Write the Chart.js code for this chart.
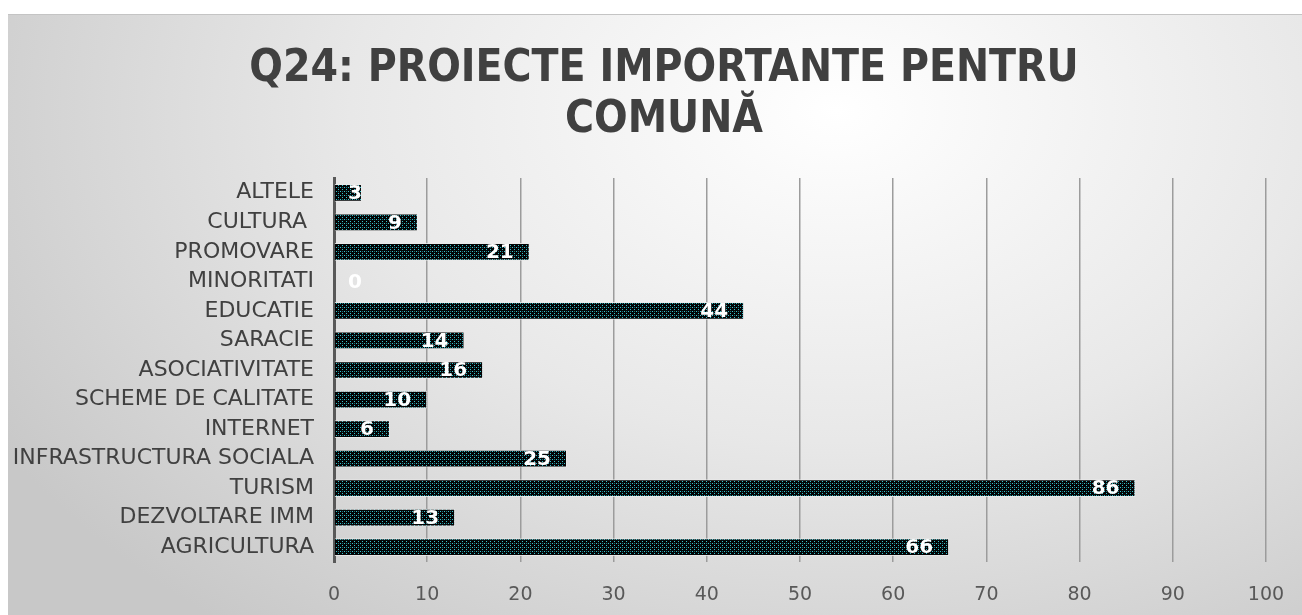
<!DOCTYPE html>
<html>
<head>
<meta charset="utf-8">
<script src="https://cdn.jsdelivr.net/npm/chart.js@4/dist/chart.umd.min.js"></script>
<style>
  html, body { margin: 0; padding: 0; background: #fff; overflow: hidden; }
  .frame {
    position: absolute; left: 8px; top: 14px; width: 1294px; height: 601px;
    border-top: 1px solid #c4c4c4; box-sizing: border-box; overflow: hidden;
    background: radial-gradient(ellipse 75% 110% at 64% 16%, #ffffff 0%, #e8e8e8 50%, #c8c8c8 100%);
  }
  .canva { position: absolute; left: 0; top: 0; width: 1312px; height: 600px; }
</style>
</head>
<body>
<div class="frame">
  <div class="canva"><canvas id="chart"></canvas></div>
</div>
<script>
const categories = ['ALTELE', 'CULTURA ', 'PROMOVARE', 'MINORITATI', 'EDUCATIE', 'SARACIE', 'ASOCIATIVITATE',
  'SCHEME DE CALITATE', 'INTERNET', 'INFRASTRUCTURA SOCIALA', 'TURISM', 'DEZVOLTARE IMM', 'AGRICULTURA'];
const values = [3, 9, 21, 0, 44, 14, 16, 10, 6, 25, 86, 13, 66];
const xTicks = [0, 10, 20, 30, 40, 50, 60, 70, 80, 90, 100];
const titleLines = ['Q24: PROIECTE IMPORTANTE PENTRU', 'COMUNĂ'];

const FONT = "'DejaVu Sans', sans-serif";
const TITLE_FONT = "'DejaVu Sans Condensed', 'DejaVu Sans', sans-serif";

// dotted fill like the office pattern
const makePattern = () => {
  const c = document.createElement('canvas');
  c.width = 4; c.height = 4;
  const p = c.getContext('2d');
  p.fillStyle = '#020506';
  p.fillRect(0, 0, 4, 4);
  p.fillStyle = '#36c2cc';
  p.fillRect(0, 0, 1, 1);
  p.fillRect(2, 2, 1, 1);
  p.fillStyle = '#1d6d75';
  p.fillRect(2, 0, 1, 1);
  return p.createPattern(c, 'repeat');
};

// title drawn on the canvas centre (the plot keeps a right padding)
const chartTitle = {
  id: 'chartTitle',
  beforeDraw(chart) {
    const ctx = chart.ctx;
    ctx.save();
    ctx.font = 'bold 44px ' + TITLE_FONT;
    ctx.fillStyle = '#404040';
    ctx.textAlign = 'center';
    ctx.textBaseline = 'alphabetic';
    titleLines.forEach((line, i) => {
      ctx.fillText(line, chart.width / 2, 66 + i * 51);
    });
    ctx.restore();
  }
};

const valueLabels = {
  id: 'valueLabels',
  afterDatasetsDraw(chart) {
    const ctx = chart.ctx;
    const meta = chart.getDatasetMeta(0);
    const left = chart.chartArea.left;
    ctx.save();
    ctx.font = 'bold 20px ' + FONT;
    ctx.fillStyle = '#ffffff';
    ctx.textAlign = 'right';
    ctx.textBaseline = 'middle';
    meta.data.forEach((bar, i) => {
      const x = Math.max(bar.x - 16, left + 28);
      ctx.fillText(String(values[i]), x, bar.y + 1);
    });
    ctx.restore();
  }
};

const ctx = document.getElementById('chart').getContext('2d');
new Chart(ctx, {
  type: 'bar',
  data: {
    labels: categories,
    datasets: [{
      data: values,
      backgroundColor: makePattern(),
      borderColor: 'rgba(235,235,235,0.8)',
      borderWidth: 1,
      categoryPercentage: 1,
      barPercentage: 0.6
    }]
  },
  options: {
    indexAxis: 'y',
    responsive: true,
    maintainAspectRatio: false,
    animation: false,
    layout: { padding: { left: 0, right: 54, top: 163, bottom: 0 } },
    plugins: {
      legend: { display: false },
      tooltip: { enabled: false },
      title: { display: false }
    },
    scales: {
      x: {
        min: 0,
        max: 100,
        afterBuildTicks: (scale) => { scale.ticks = xTicks.map(v => ({ value: v })); },
        afterFit: (scale) => { scale.height = 53; },
        grid: { color: '#9c9c9c', lineWidth: 1.5, drawTicks: false },
        border: { display: false },
        ticks: { color: '#595959', font: { family: FONT, size: 19 }, padding: 22 }
      },
      y: {
        afterFit: (scale) => { scale.width = 326; },
        grid: { display: false, drawTicks: false },
        border: { display: true, color: '#595959', width: 3 },
        ticks: { color: '#404040', font: { family: FONT, size: 22 }, padding: 20, autoSkip: false }
      }
    }
  },
  plugins: [chartTitle, valueLabels]
});
</script>
</body>
</html>
